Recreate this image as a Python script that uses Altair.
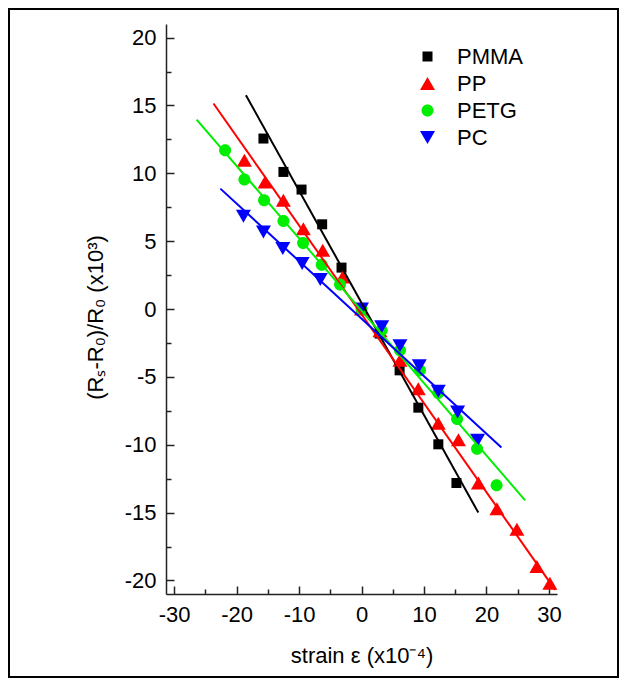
import altair as alt
import pandas as pd

# ---------------- data ----------------
series = ["PMMA", "PP", "PETG", "PC"]
colors = ["#000000", "#ff0000", "#00ee00", "#0000ff"]

pmma_x = [-15.7, -12.5, -9.6, -6.3, -3.2, 0.0, 2.9, 6.1, 9.1, 12.3, 15.2]
pmma_y = [12.56, 10.1, 8.8, 6.24, 3.05, 0.0, -1.81, -4.52, -7.27, -9.97, -12.82]

pp_x = [-18.75, -15.44, -12.51, -9.31, -6.21, -3.01, 0.0, 2.96, 6.16, 9.09,
        12.29, 15.52, 18.72, 21.68, 24.88, 28.08, 30.16]
pp_y = [10.96, 9.36, 8.01, 5.92, 4.33, 2.36, 0.0, -1.6, -3.78, -5.87,
        -8.42, -9.64, -12.82, -14.72, -16.22, -18.98, -20.21]

petg_x = [-21.84, -18.75, -15.6, -12.5, -9.36, -6.37, -3.44, 0.0, 3.23, 6.16,
          9.36, 12.29, 15.3, 18.5, 21.63]
petg_y = [11.69, 9.54, 8.01, 6.48, 4.86, 3.26, 1.81, 0.0, -1.57, -3.04,
          -4.52, -6.19, -8.1, -10.3, -12.99]

pc_x = [-18.9, -15.7, -12.6, -9.5, -6.6, 0.0, 3.23, 6.16, 9.25, 12.29, 15.39, 18.59]
pc_y = [6.83, 5.67, 4.45, 3.35, 2.17, 0.0, -1.3, -2.7, -4.18, -6.06, -7.59, -9.68]

# fitted straight lines: start and end points
fit_x0 = [-18.5, -23.7, -26.4, -22.6]
fit_y0 = [15.75, 15.14, 13.96, 8.87]
fit_x1 = [18.7, 31.0, 26.2, 22.4]
fit_y1 = [-15.0, -20.7, -14.1, -10.2]

x_major = [-30, -20, -10, 0, 10, 20, 30]
x_minor = [-25, -15, -5, 5, 15, 25]
y_major = [-20, -15, -10, -5, 0, 5, 10, 15, 20]
y_minor = [-17.5, -12.5, -7.5, -2.5, 2.5, 7.5, 12.5, 17.5]

# marker outlines (unit box scaled by the symbol size)
shapes = [
    "M-0.667,-0.667H0.667V0.667H-0.667Z",
    "M0,-0.867L1,0.867L-1,0.867Z",
    "M0.8,0A0.8,0.8,0,1,1,-0.8,0A0.8,0.8,0,1,1,0.8,0Z",
    "M0,0.867L1,-0.867L-1,-0.867Z",
]

# ---------------- tables ----------------
rows = []
for name, xs_, ys_ in zip(series, [pmma_x, pp_x, petg_x, pc_x], [pmma_y, pp_y, petg_y, pc_y]):
    for a, b in zip(xs_, ys_):
        rows.append({"series": name, "strain": a, "dr": b})
pts = pd.DataFrame(rows)

frows = []
for i, name in enumerate(series):
    frows.append({"series": name, "strain": fit_x0[i], "dr": fit_y0[i]})
    frows.append({"series": name, "strain": fit_x1[i], "dr": fit_y1[i]})
fit = pd.DataFrame(frows)

W, H = 391, 570
PAD_L, PAD_T, PAD_R, PAD_B = 158, 16, 62, 84
FONT = "Liberation Sans"
FS = 22
LBL = "'' + datum.value"

xsc = alt.Scale(domain=[-31.3, 31.3], nice=False, zero=False)
ysc = alt.Scale(domain=[-21, 21], nice=False, zero=False)
csc = alt.Scale(domain=series, range=colors)
ssc = alt.Scale(domain=series, range=shapes)

legend = alt.Legend(
    orient="none", legendX=250.5, legendY=21.5, title=None, padding=0,
    symbolSize=225, symbolStrokeWidth=0, symbolOpacity=1,
    labelFont=FONT, labelFontSize=FS, labelColor="#000", labelOffset=18.5,
    rowPadding=5,
)

points = alt.Chart(pts).mark_point(filled=True, size=225, opacity=1).encode(
    x=alt.X("strain:Q", scale=xsc, axis=alt.Axis(
        orient="bottom", values=x_major, ticks=False, tickSize=0, labelPadding=10,
        labelExpr=LBL, title="strain ε (x10⁻⁴)", titlePadding=20, grid=False)),
    y=alt.Y("dr:Q", scale=ysc, axis=alt.Axis(
        orient="left", values=y_major, ticks=False, tickSize=0, labelPadding=10,
        labelExpr=LBL, title="(Rₛ-R₀)/R₀ (x10³)", titlePadding=17, titleY=293,
        grid=False)),
    color=alt.Color("series:N", scale=csc, legend=legend),
    shape=alt.Shape("series:N", scale=ssc, legend=legend),
)

lines = alt.Chart(fit).mark_line(strokeWidth=2).encode(
    x=alt.X("strain:Q", scale=xsc, axis=alt.Axis(
        orient="top", offset=-H, values=x_major, tickSize=8, labels=False,
        domain=False, title=None, grid=False)),
    y=alt.Y("dr:Q", scale=ysc, axis=alt.Axis(
        orient="right", offset=-W, values=y_major, tickSize=8, labels=False,
        domain=False, title=None, grid=False)),
    stroke=alt.Stroke("series:N", scale=csc, legend=None),
    detail="series:N",
)

minor = alt.Chart(pts).mark_point(opacity=0).encode(
    x=alt.X("strain:Q", scale=xsc, axis=alt.Axis(
        orient="top", offset=-H, values=x_minor, tickSize=5, labels=False,
        domain=False, title=None, grid=False)),
    y=alt.Y("dr:Q", scale=ysc, axis=alt.Axis(
        orient="right", offset=-W, values=y_minor, tickSize=5, labels=False,
        domain=False, title=None, grid=False)),
)

frame = alt.Chart(pd.DataFrame({"a": [0]})).mark_rect(
    fillOpacity=0, stroke="#000", strokeWidth=2
).encode(
    x=alt.value(-PAD_L + 1), x2=alt.value(W + PAD_R - 1),
    y=alt.value(-PAD_T + 1), y2=alt.value(H + PAD_B - 1),
)

chart = alt.layer(points, lines, minor, frame).resolve_axis(
    x="independent", y="independent"
).properties(
    width=W, height=H,
    autosize=alt.AutoSizeParams(type="none"),
    padding={"left": PAD_L, "top": PAD_T, "right": PAD_R, "bottom": PAD_B},
    background="white",
).configure_view(stroke=None).configure_axis(
    labelFont=FONT, labelFontSize=FS, labelColor="#000",
    titleFont=FONT, titleFontSize=FS, titleFontWeight="normal", titleColor="#000",
    domainColor="#222", domainWidth=1.5, tickColor="#222", tickWidth=1.5,
    grid=False,
)

chart.save("out.html", embed_options={"renderer": "svg", "actions": False})
